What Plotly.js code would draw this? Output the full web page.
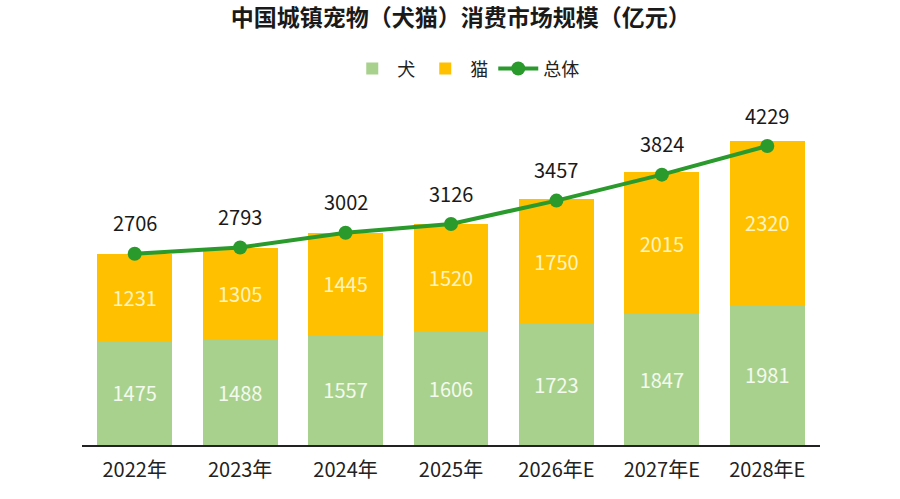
<!DOCTYPE html>
<html>
<head>
<meta charset="utf-8">
<script src="https://cdn.plot.ly/plotly-3.0.1.min.js"></script>
<style>html,body{margin:0;padding:0;background:#fff;}#chart{width:900px;height:499px;}</style>
</head>
<body>
<div id="chart"></div>
<script>
const categories = ['2022年','2023年','2024年','2025年','2026年E','2027年E','2028年E'];
const dogValues = [1475,1488,1557,1606,1723,1847,1981];
const catValues = [1231,1305,1445,1520,1750,2015,2320];
const totalValues = [2706,2793,3002,3126,3457,3824,4229];

const FONT = '"Noto Sans CJK SC", "Noto Sans", sans-serif';

const traces = [
  {
    type: 'bar', name: '犬', x: categories, y: dogValues,
    marker: {color: '#A9D18E'},
    text: dogValues.map(String), textposition: 'inside', insidetextanchor: 'middle',
    textfont: {color: '#F4FAEE', size: 20, family: FONT},
    hoverinfo: 'skip'
  },
  {
    type: 'bar', name: '猫', x: categories, y: catValues,
    marker: {color: '#FFC000'},
    text: catValues.map(String), textposition: 'inside', insidetextanchor: 'middle',
    textfont: {color: '#FFF4C0', size: 20, family: FONT},
    hoverinfo: 'skip'
  },
  {
    type: 'scatter', mode: 'lines+markers', name: '总体', x: categories, y: totalValues,
    line: {color: '#2A9A2C', width: 4},
    marker: {color: '#2A9A2C', size: 14},
    hoverinfo: 'skip'
  }
];

const annotations = categories.map((c, i) => ({
  x: c, y: totalValues[i], xref: 'x', yref: 'y',
  text: String(totalValues[i]), showarrow: false, yshift: 31,
  font: {size: 20, color: '#1a1a1a', family: FONT}
}));

const layout = {
  width: 900, height: 499,
  margin: {l: 82, r: 80, t: 100, b: 54},
  paper_bgcolor: '#ffffff', plot_bgcolor: '#ffffff',
  barmode: 'stack', bargap: 0.29,
  font: {family: FONT, color: '#222'},
  title: {
    text: '<b>中国城镇宠物（犬猫）消费市场规模（亿元）</b>',
    x: 0.512, xanchor: 'center', y: 0.964, yanchor: 'middle',
    font: {size: 23, color: '#1a1a1a', family: FONT}
  },
  legend: {
    orientation: 'h', x: 0.52, xanchor: 'center', y: 0.862, yanchor: 'middle',
    yref: 'container',
    font: {size: 18, color: '#222', family: FONT},
    itemwidth: 40, traceorder: 'normal'
  },
  xaxis: {
    type: 'category', showline: true, linecolor: '#222', linewidth: 1.5,
    showgrid: false, zeroline: false, ticks: '', ticklabelstandoff: 6,
    tickfont: {size: 20, color: '#222', family: FONT}
  },
  yaxis: {
    range: [0, 4880], visible: false, showgrid: false, zeroline: false
  },
  annotations: annotations,
  showlegend: true
};

Plotly.newPlot('chart', traces, layout, {displayModeBar: false, staticPlot: true});
</script>
</body>
</html>
